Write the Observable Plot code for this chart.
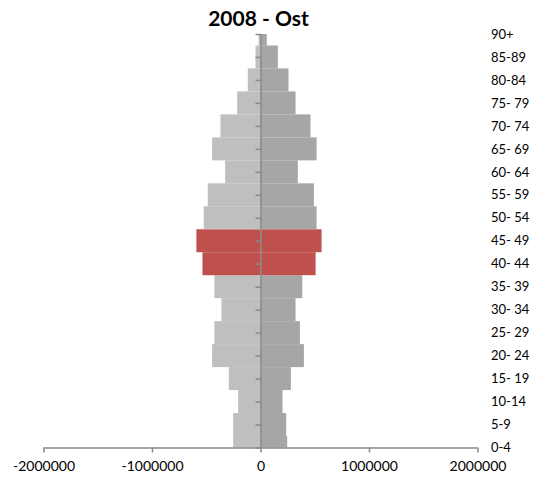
<!DOCTYPE html>
<html><head><meta charset="utf-8">
<script src="https://cdn.jsdelivr.net/npm/d3@7"></script>
<script src="https://cdn.jsdelivr.net/npm/@observablehq/plot@0.6"></script>
<style>
body{margin:0;background:#fff;}
#wrap{position:relative;width:537px;height:484px;}
#title{position:absolute;top:4px;left:0;width:517px;text-align:center;font:bold 21px Lato, sans-serif;color:#000;line-height:28px;}
#wrap svg{position:absolute;top:0;left:0;}
</style></head><body>
<div id="wrap"><div id="title">2008 - Ost</div></div>
<script>
// age groups, bottom to top
const ageGroups = ["0-4","5-9","10-14","15- 19","20- 24","25- 29","30- 34","35- 39","40- 44","45- 49","50- 54","55- 59","60- 64","65- 69","70- 74","75- 79","80-84","85-89","90+"];
// left half (drawn to the left of zero)
const leftValues = [252000,252000,206000,292000,446000,425000,360000,425000,535000,591000,523000,486000,326000,446000,369000,215000,117000,46000,18000];
// right half
const rightValues = [246000,237000,203000,280000,400000,363000,323000,385000,508000,563000,517000,492000,344000,517000,461000,323000,258000,160000,58000];
const highlighted = ["40- 44","45- 49"];
const xTicks = [-2000000,-1000000,0,1000000,2000000];

const lightGray = "#bfbfbf", darkGray = "#a6a6a6", red = "#c0504d", axisGray = "#898989";

const rows = ageGroups.map((g, i) => ({g, i, left: leftValues[i], right: rightValues[i], hi: highlighted.includes(g)}));

const leftTick = {draw(ctx) { ctx.moveTo(-5.5, 0); ctx.lineTo(0, 0); }};

const chart = Plot.plot({
  width: 537, height: 484,
  marginTop: 34, marginBottom: 36.5, marginLeft: 43.5, marginRight: 59.5,
  style: {fontFamily: "Lato, sans-serif", fontSize: "14px", color: "#000", background: "transparent", overflow: "visible"},
  x: {domain: [-2000000, 2000000]},
  y: {domain: [0, ageGroups.length - 1]},
  marks: [
    Plot.rect(rows, {x1: 0, x2: d => -d.left, y1: d => d.i - 0.5, y2: d => d.i + 0.5, fill: d => d.hi ? red : lightGray, clip: true}),
    Plot.rect(rows, {x1: 0, x2: d => d.right, y1: d => d.i - 0.5, y2: d => d.i + 0.5, fill: d => d.hi ? red : darkGray, clip: true}),
    Plot.dot(rows, {x: 0, y: "i", symbol: leftTick, stroke: axisGray, fill: "none", strokeWidth: 1.5}),
    Plot.ruleX([0], {stroke: axisGray, strokeWidth: 1.5}),
    Plot.ruleY([0], {stroke: axisGray, strokeWidth: 1.5}),
    Plot.axisX({ticks: xTicks, tickFormat: d => String(d), tickSize: 5, tickPadding: 8, stroke: axisGray, strokeWidth: 1.5, strokeOpacity: 1, label: null}),
    Plot.axisY({anchor: "right", ticks: rows.map(d => d.i), tickFormat: i => ageGroups[i], tickSize: 0, tickPadding: 13, label: null, fontSize: 13})
  ]
});
document.getElementById("wrap").appendChild(chart);
</script>
</body></html>
